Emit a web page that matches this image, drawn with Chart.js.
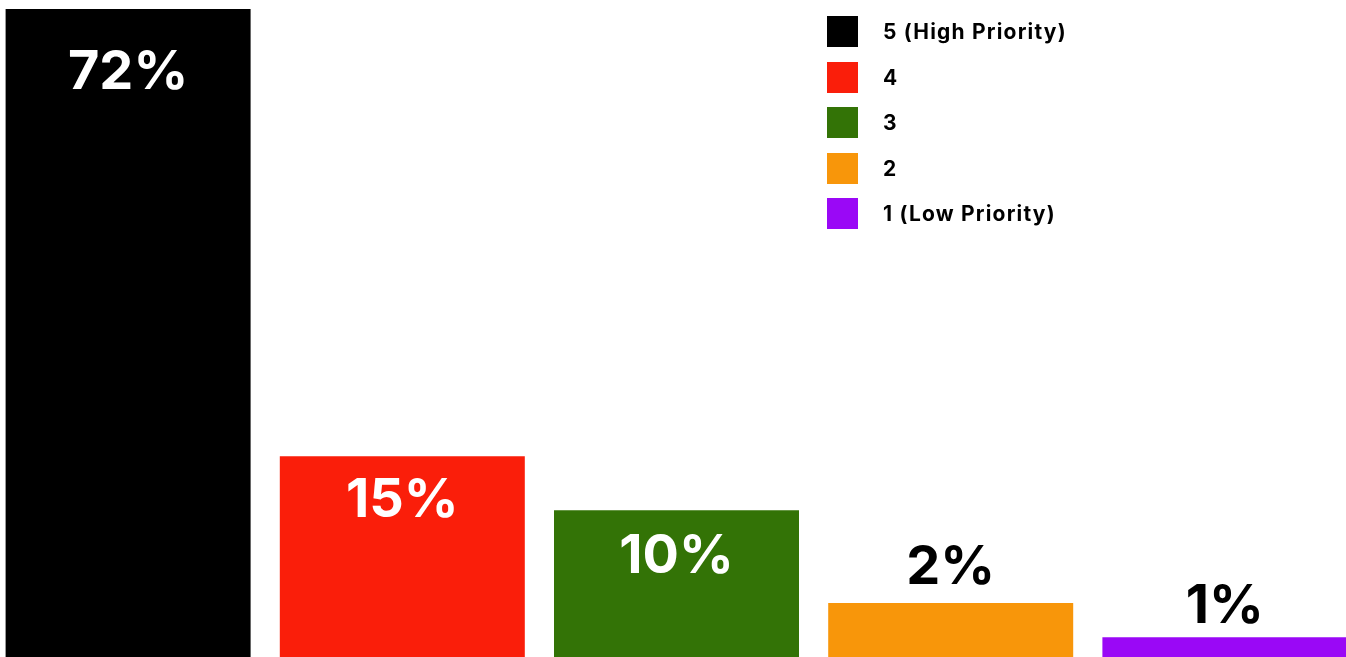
<!DOCTYPE html>
<html>
<head>
<meta charset="utf-8">
<script src="https://cdn.jsdelivr.net/npm/chart.js@4"></script>
<style>
  html, body { margin:0; padding:0; background:#fff; overflow:hidden; }
  #wrap { position:absolute; left:-9px; top:0; width:1371px; height:657px; }
  #legend { position:absolute; left:827px; top:9px; font-family:Inter, sans-serif; font-weight:700; font-size:21px; letter-spacing:1.2px; color:#000; }
  .li { display:flex; align-items:center; height:45.5px; }
  .li .sw { width:31px; height:31px; margin-right:25px; }
</style>
</head>
<body>
<div id="wrap"><canvas id="c"></canvas></div>
<div id="legend"></div>
<script>
// priority categories, left to right
const categories = ['5 (High Priority)', '4', '3', '2', '1 (Low Priority)'];
// bar heights as drawn (same units as yMax)
const barValues = [72, 22.3, 16.3, 6, 2.2];
const valueLabels = ['72%', '15%', '10%', '2%', '1%'];
const colors = ['#000000', '#fa1e0a', '#337306', '#f8960a', '#9a08f6'];
const yMax = 73;

const $ = (sel, el=document) => el.querySelector(sel);

// legend in html so it can sit over the plot area
function buildLegend(){
  const lg = $('#legend');
  categories.forEach((cat, i) => {
    const row = document.createElement('div');
    row.className = 'li';
    row.innerHTML = `<div class="sw" style="background:${colors[i]}"></div><div>${cat}</div>`;
    lg.appendChild(row);
  });
}

// labels: first three inside the bar (white), small ones above (black)
const labelOffset = [64, 44, 46, -35, -30];
const labelColor = ['#fff', '#fff', '#fff', '#000', '#000'];

const barLabels = {
  id: 'barLabels',
  afterDatasetsDraw(chart){
    const ctx = chart.ctx;
    const meta = chart.getDatasetMeta(0);
    ctx.save();
    ctx.font = '700 54px Inter, sans-serif';
    ctx.textAlign = 'center';
    ctx.textBaseline = 'middle';
    meta.data.forEach((bar, i) => {
      ctx.fillStyle = labelColor[i];
      ctx.fillText(valueLabels[i], bar.x, bar.y + labelOffset[i]);
    });
    ctx.restore();
  }
};

function init(){
  buildLegend();
  new Chart($('#c'), {
    type: 'bar',
    data: {
      labels: categories,
      datasets: [{ data: barValues, backgroundColor: colors, borderWidth: 0,
                   categoryPercentage: 1, barPercentage: 0.8935 }]
    },
    options: {
      responsive: true, maintainAspectRatio: false, animation: false,
      layout: { padding: 0 },
      plugins: { legend: { display: false }, tooltip: { enabled: false } },
      scales: {
        x: { display: false, offset: true },
        y: { display: false, min: 0, max: yMax }
      }
    },
    plugins: [barLabels]
  });
}

document.addEventListener('DOMContentLoaded', init);
</script>
</body>
</html>
